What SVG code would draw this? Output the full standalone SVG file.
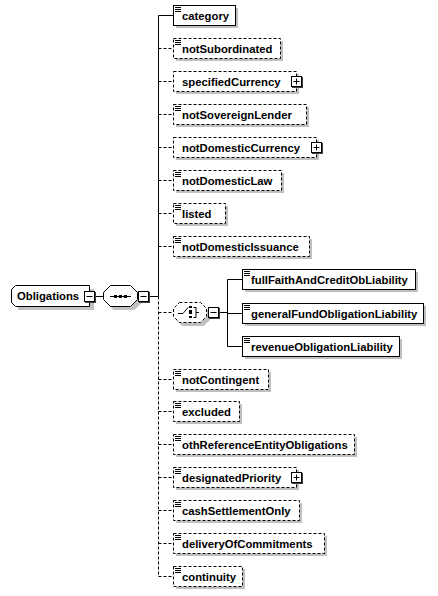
<svg xmlns="http://www.w3.org/2000/svg" width="438" height="596" viewBox="0 0 438 596">
<style>
.bg{fill:#fff}
.box{fill:#fff;stroke:#000;stroke-width:1}
.opt{stroke-dasharray:3 2}
.sh{fill:#c0c0c0}
.ln{stroke:#000;stroke-width:1;fill:none}
.t{font-family:"Liberation Sans",Arial,sans-serif;font-weight:bold;font-size:11.3px;fill:#000}
.ic{fill:#fff;stroke:#000;stroke-width:1}
.ish{fill:#404040}
</style>
<defs>
<g id="lines"><path class="ln" d="M2 2.5h6M2 4.5h6M2 6.5h6"/></g>
<g id="plus"><rect class="ish" x="1" y="1" width="11" height="11"/><rect class="ic" x="0.5" y="0.5" width="10" height="10"/><path class="ln" d="M2.5 5.5h6M5.5 2.5v6"/></g>
<g id="minus"><rect class="ish" x="1" y="1" width="11" height="11"/><rect class="ic" x="0.5" y="0.5" width="10" height="10"/><path class="ln" d="M2.5 5.5h6"/></g>
</defs>
<rect class="bg" x="0" y="0" width="438" height="596"/>

<g id="connectors">
<path class="ln" d="M94 296.5h10M148 296.5h10.5M158.5 15.5V296.5M158.5 15.5H173"/>
<path class="ln opt" d="M158.5 296.5V576.5M158.5 48.5H173M158.5 81.5H173M158.5 114.5H173M158.5 147.5H173M158.5 180.5H173M158.5 213.5H173M158.5 246.5H173M158.5 312.5H173M158.5 379.5H173M158.5 411.5H173M158.5 444.5H173M158.5 477.5H173M158.5 510.5H173M158.5 543.5H173M158.5 576.5H173"/>
<path class="ln" d="M218 312.5h9.5M227.5 279.5V346.5M227.5 279.5H242M227.5 313.5H242M227.5 346.5H242"/>
</g>

<g id="Obligations">
<path class="sh" d="M18 289h76v21h-76z"/>
<path class="box" d="M15.5 285.5H89.5V306.5H15.5L11.5 302.5V289.5Z"/>
<text class="t" x="17" y="300">Obligations</text>
<use href="#minus" x="84" y="291"/>
</g>

<g id="sequence">
<path class="sh" d="M113.5 289H134.5L141 295.5V303.5L134.5 310H113.5L107 303.5V295.5Z"/>
<path class="box" d="M110.5 285.5H130.5L137.5 292.5V299.5L130.5 306.5H110.5L103.5 299.5V292.5Z"/>
<path class="ln" d="M110 296.5h21"/>
<rect x="114" y="295" width="3" height="3"/><rect x="119" y="295" width="3" height="3"/><rect x="124" y="295" width="3" height="3"/>
<use href="#minus" x="138" y="291"/>
</g>

<g id="choice">
<path class="sh" d="M182.5 306H203.5L210 312V320L203.5 326H182.5L176 320V312Z"/>
<path class="box opt" d="M179.5 302.5H200.5L206.5 308.5V316.5L200.5 322.5H179.5L173.5 316.5V308.5Z"/>
<path class="ln" d="M178 313.5h5l5-6"/>
<rect x="189" y="306" width="3" height="2"/><rect x="189" y="310" width="3" height="4"/><rect x="189" y="316" width="3" height="2"/>
<path class="ln" d="M193.5 307.5h2.5v10h-2.5M196 312.5h3"/>
<use href="#minus" x="208" y="307"/>
</g>

<g id="category">
<rect class="sh" x="176" y="8" width="62" height="20"/>
<rect class="box" x="173.5" y="5.5" width="62" height="20"/>
<use href="#lines" x="173" y="5"/>
<text class="t" x="182" y="19.5">category</text>
</g>

<g id="notSubordinated">
<rect class="sh" x="176" y="41" width="107" height="20"/>
<rect class="box opt" x="173.5" y="38.5" width="107" height="20"/>
<use href="#lines" x="173" y="38"/>
<text class="t" x="182" y="52.5">notSubordinated</text>
</g>

<g id="specifiedCurrency">
<rect class="sh" x="176" y="74" width="123" height="20"/>
<rect class="box opt" x="173.5" y="71.5" width="123" height="20"/>
<text class="t" x="182" y="85.5">specifiedCurrency</text>
<use href="#plus" x="291" y="76"/>
</g>

<g id="notSovereignLender">
<rect class="sh" x="176" y="107" width="133" height="20"/>
<rect class="box opt" x="173.5" y="104.5" width="133" height="20"/>
<use href="#lines" x="173" y="104"/>
<text class="t" x="182" y="118.5">notSovereignLender</text>
</g>

<g id="notDomesticCurrency">
<rect class="sh" x="176" y="140" width="143" height="20"/>
<rect class="box opt" x="173.5" y="137.5" width="143" height="20"/>
<text class="t" x="182" y="151.5">notDomesticCurrency</text>
<use href="#plus" x="311" y="142"/>
</g>

<g id="notDomesticLaw">
<rect class="sh" x="176" y="173" width="108" height="20"/>
<rect class="box opt" x="173.5" y="170.5" width="108" height="20"/>
<use href="#lines" x="173" y="170"/>
<text class="t" x="182" y="184.5">notDomesticLaw</text>
</g>

<g id="listed">
<rect class="sh" x="176" y="206" width="52" height="20"/>
<rect class="box opt" x="173.5" y="203.5" width="52" height="20"/>
<use href="#lines" x="173" y="203"/>
<text class="t" x="182" y="217.5">listed</text>
</g>

<g id="notDomesticIssuance">
<rect class="sh" x="176" y="239" width="136" height="20"/>
<rect class="box opt" x="173.5" y="236.5" width="136" height="20"/>
<use href="#lines" x="173" y="236"/>
<text class="t" x="182" y="250.5">notDomesticIssuance</text>
</g>

<g id="fullFaithAndCreditObLiability">
<rect class="sh" x="245" y="272" width="173" height="20"/>
<rect class="box" x="242.5" y="269.5" width="173" height="20"/>
<use href="#lines" x="242" y="269"/>
<text class="t" x="251" y="283.5">fullFaithAndCreditObLiability</text>
</g>

<g id="generalFundObligationLiability">
<rect class="sh" x="245" y="306" width="181" height="20"/>
<rect class="box" x="242.5" y="303.5" width="181" height="20"/>
<use href="#lines" x="242" y="303"/>
<text class="t" x="251" y="317.5">generalFundObligationLiability</text>
</g>

<g id="revenueObligationLiability">
<rect class="sh" x="245" y="339" width="157" height="20"/>
<rect class="box" x="242.5" y="336.5" width="157" height="20"/>
<use href="#lines" x="242" y="336"/>
<text class="t" x="251" y="350.5">revenueObligationLiability</text>
</g>

<g id="notContingent">
<rect class="sh" x="176" y="372" width="95" height="20"/>
<rect class="box opt" x="173.5" y="369.5" width="95" height="20"/>
<use href="#lines" x="173" y="369"/>
<text class="t" x="182" y="383.5">notContingent</text>
</g>

<g id="excluded">
<rect class="sh" x="176" y="404" width="66" height="20"/>
<rect class="box opt" x="173.5" y="401.5" width="66" height="20"/>
<use href="#lines" x="173" y="401"/>
<text class="t" x="182" y="415.5">excluded</text>
</g>

<g id="othReferenceEntityObligations">
<rect class="sh" x="176" y="437" width="181" height="20"/>
<rect class="box opt" x="173.5" y="434.5" width="181" height="20"/>
<use href="#lines" x="173" y="434"/>
<text class="t" x="182" y="448.5">othReferenceEntityObligations</text>
</g>

<g id="designatedPriority">
<rect class="sh" x="176" y="470" width="123" height="20"/>
<rect class="box opt" x="173.5" y="467.5" width="123" height="20"/>
<use href="#lines" x="173" y="467"/>
<text class="t" x="182" y="481.5">designatedPriority</text>
<use href="#plus" x="291" y="472"/>
</g>

<g id="cashSettlementOnly">
<rect class="sh" x="176" y="503" width="126" height="20"/>
<rect class="box opt" x="173.5" y="500.5" width="126" height="20"/>
<use href="#lines" x="173" y="500"/>
<text class="t" x="182" y="514.5">cashSettlementOnly</text>
</g>

<g id="deliveryOfCommitments">
<rect class="sh" x="176" y="536" width="151" height="20"/>
<rect class="box opt" x="173.5" y="533.5" width="151" height="20"/>
<use href="#lines" x="173" y="533"/>
<text class="t" x="182" y="547.5">deliveryOfCommitments</text>
</g>

<g id="continuity">
<rect class="sh" x="176" y="569" width="69" height="20"/>
<rect class="box opt" x="173.5" y="566.5" width="69" height="20"/>
<use href="#lines" x="173" y="566"/>
<text class="t" x="182" y="580.5">continuity</text>
</g>
</svg>
